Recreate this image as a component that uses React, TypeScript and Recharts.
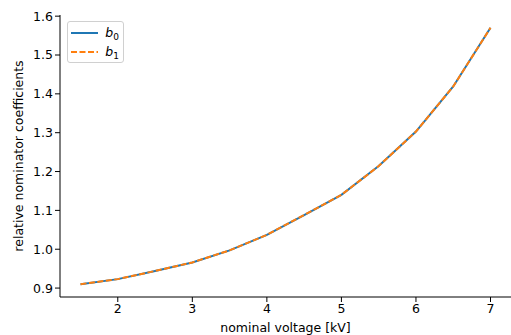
import React from "react";
import { LineChart, Line, XAxis, YAxis } from "recharts";

const voltages = [1.5, 2, 2.5, 3, 3.5, 4, 4.5, 5, 5.5, 6, 6.5, 7];
const b0 = [0.91, 0.923, 0.944, 0.966, 0.997, 1.037, 1.088, 1.14, 1.214, 1.303, 1.419, 1.57];
const b1 = [0.91, 0.923, 0.944, 0.966, 0.997, 1.037, 1.088, 1.14, 1.214, 1.303, 1.419, 1.57];
const xTicks = [2, 3, 4, 5, 6, 7];
const yTicks = [0.9, 1.0, 1.1, 1.2, 1.3, 1.4, 1.5, 1.6];

const data = voltages.map((v, i) => ({ v, b0: b0[i], b1: b1[i] }));

const font = "DejaVu Sans, sans-serif";
const fs = 12.5;

const rowStyle = { display: "flex", alignItems: "center", height: 19 };
const subStyle = { fontSize: 9, lineHeight: 0, verticalAlign: "-3px" };

const LegendBox = () => (
  <div
    style={{
      position: "absolute",
      left: 67,
      top: 21,
      width: 48,
      border: "1px solid #d0d0d0",
      borderRadius: 3,
      background: "#fff",
      padding: "1px 4px 1px 3px",
      fontFamily: font,
      fontSize: fs,
      color: "#000",
      lineHeight: "19px",
    }}
  >
    <div style={rowStyle}>
      <svg width={28} height={10} style={{ marginRight: 7 }}>
        <line x1={0} y1={5} x2={28} y2={5} stroke="#1f77b4" strokeWidth={2} />
      </svg>
      <span>
        <i>b</i>
        <span style={subStyle}>0</span>
      </span>
    </div>
    <div style={rowStyle}>
      <svg width={28} height={10} style={{ marginRight: 7 }}>
        <line x1={0} y1={5} x2={28} y2={5} stroke="#ff7f0e" strokeWidth={2} strokeDasharray="6 2.5" />
      </svg>
      <span>
        <i>b</i>
        <span style={subStyle}>1</span>
      </span>
    </div>
  </div>
);

export default function App() {
  return (
    <div style={{ position: "absolute", left: 0, top: 0, width: 511, height: 335, background: "#fff" }}>
      <LineChart
        width={511}
        height={335}
        data={data}
        margin={{ top: 15, right: 0, left: 0, bottom: 0 }}
      >
        <XAxis
          xAxisId="top"
          orientation="top"
          dataKey="v"
          type="number"
          domain={[1.225, 7.275]}
          height={0}
          tick={false}
          tickLine={false}
          axisLine={{ stroke: "#000", strokeWidth: 1 }}
        />
        <XAxis
          dataKey="v"
          type="number"
          domain={[1.225, 7.275]}
          ticks={xTicks}
          height={38}
          tickSize={5}
          tickLine={{ stroke: "#000" }}
          axisLine={{ stroke: "#000", strokeWidth: 1 }}
          tick={{ fill: "#000", fontSize: fs, fontFamily: font }}
          label={{
            value: "nominal voltage [kV]",
            position: "insideBottom",
            offset: 3,
            fill: "#000",
            fontSize: fs,
            fontFamily: font,
          }}
        />
        <YAxis
          type="number"
          domain={[0.877, 1.603]}
          ticks={yTicks}
          width={60}
          tickSize={5}
          tickLine={{ stroke: "#000" }}
          axisLine={{ stroke: "#000", strokeWidth: 1 }}
          tickFormatter={(t: number) => t.toFixed(1)}
          tick={{ fill: "#000", fontSize: fs, fontFamily: font }}
          label={{
            value: "relative nominator coefficients",
            angle: -90,
            position: "insideLeft",
            offset: 19,
            style: { textAnchor: "middle" },
            fill: "#000",
            fontSize: fs,
            fontFamily: font,
          }}
        />
        <Line
          dataKey="b0"
          stroke="#1f77b4"
          strokeWidth={2}
          dot={false}
          isAnimationActive={false}
        />
        <Line
          dataKey="b1"
          stroke="#ff7f0e"
          strokeWidth={2}
          strokeDasharray="6 2.5"
          dot={false}
          isAnimationActive={false}
        />
      </LineChart>
      <LegendBox />
    </div>
  );
}
